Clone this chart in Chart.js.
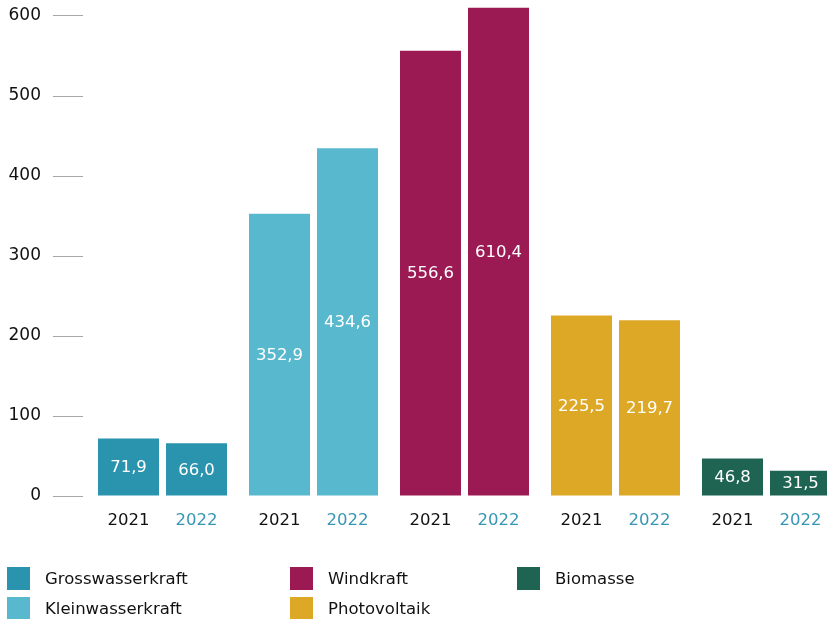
<!DOCTYPE html>
<html>
<head>
<meta charset="utf-8">
<script src="https://cdn.jsdelivr.net/npm/chart.js@4.4.1/dist/chart.umd.min.js"></script>
<style>
  html, body { margin: 0; padding: 0; overflow: hidden; background: #fff; }
  #wrap { position: relative; width: 842px; height: 619px; }
  #legend {
    position: absolute; left: 7px; top: 567px;
    display: grid; grid-auto-flow: column;
    grid-template-rows: 30px 30px; grid-template-columns: 283px 227px 200px;
    font-family: "DejaVu Sans", sans-serif; font-size: 16.5px; color: #111;
  }
  .item { display: flex; align-items: flex-start; height: 30px; }
  .box { width: 23px; height: 23px; flex: none; }
  .txt { margin-left: 15px; line-height: 24px; white-space: nowrap; }
</style>
</head>
<body>
<div id="wrap">
  <canvas id="c"></canvas>
  <div id="legend"></div>
</div>
<script>
// ---- data ----
const categories = ["Grosswasserkraft", "Kleinwasserkraft", "Windkraft", "Photovoltaik", "Biomasse"];
const years = ["2021", "2022"];
const values2021 = [71.9, 352.9, 556.6, 225.5, 46.8];
const values2022 = [66.0, 434.6, 610.4, 219.7, 31.5];
const yTicks = [0, 100, 200, 300, 400, 500, 600];

// ---- styles ----
const categoryColors = ["#2A93AD", "#58B8CE", "#9B1A53", "#DEA827", "#1F6452"];
const yearColors = ["#111111", "#3796B5"];
const FONT = "DejaVu Sans";

const fmt = v => v.toFixed(1).replace(".", ",");

const labelPlugin = {
  id: "barLabels",
  afterDatasetsDraw(chart) {
    const ctx = chart.ctx;
    ctx.save();
    ctx.font = "16.5px '" + FONT + "'";
    ctx.textAlign = "center";
    ctx.textBaseline = "middle";
    chart.data.datasets.forEach((ds, di) => {
      const meta = chart.getDatasetMeta(di);
      meta.data.forEach((bar, i) => {
        const p = bar.getProps(["x", "y", "base"], true);
        ctx.fillStyle = "#ffffff";
        ctx.fillText(fmt(ds.data[i]), p.x, (p.y + p.base) / 2 + 1);
        ctx.fillStyle = yearColors[di];
        ctx.fillText(ds.label, p.x, p.base + 25);
      });
    });
    ctx.restore();
  }
};

Chart.defaults.font.family = FONT;

new Chart(document.getElementById("c"), {
  type: "bar",
  data: {
    labels: categories,
    datasets: [
      { label: years[0], data: values2021, backgroundColor: categoryColors,
        categoryPercentage: 0.9007, barPercentage: 0.897, borderWidth: 0 },
      { label: years[1], data: values2022, backgroundColor: categoryColors,
        categoryPercentage: 0.9007, barPercentage: 0.897, borderWidth: 0 }
    ]
  },
  options: {
    responsive: true,
    maintainAspectRatio: false,
    animation: false,
    layout: { padding: 0 },
    plugins: { legend: { display: false }, tooltip: { enabled: false } },
    scales: {
      x: {
        type: "category",
        grid: { display: false },
        border: { display: false },
        ticks: { display: false },
        afterFit(s) { s.height = 123; s.paddingLeft = 0; s.paddingRight = 0; }
      },
      y: {
        min: 0,
        max: 620,
        border: { display: false },
        grid: {
          drawOnChartArea: false,
          drawTicks: true,
          tickLength: 34,
          tickBorderDash: [30, 100],
          tickColor: "#a8a8a8",
          tickWidth: 1
        },
        afterBuildTicks(s) { s.ticks = yTicks.map(v => ({ value: v })); },
        ticks: {
          padding: 12,
          color: "#111111",
          font: { size: 17 },
          callback: v => String(v)
        },
        afterFit(s) { s.width = 87; s.paddingTop = 0; s.paddingBottom = 0; }
      }
    }
  },
  plugins: [labelPlugin]
});

// ---- legend (HTML, built from the arrays) ----
const legend = document.getElementById("legend");
categories.forEach((name, i) => {
  const item = document.createElement("div");
  item.className = "item";
  const box = document.createElement("span");
  box.className = "box";
  box.style.background = categoryColors[i];
  const txt = document.createElement("span");
  txt.className = "txt";
  txt.textContent = name;
  item.appendChild(box);
  item.appendChild(txt);
  legend.appendChild(item);
});
</script>
</body>
</html>
